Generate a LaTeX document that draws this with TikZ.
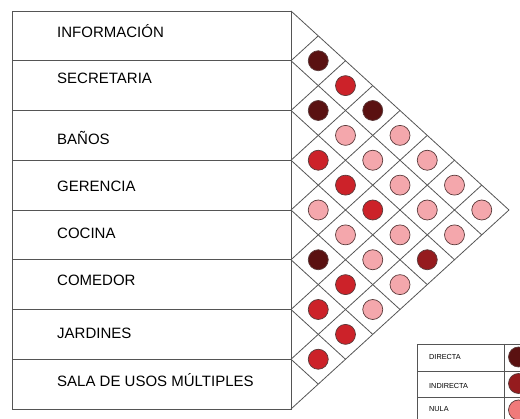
\documentclass[tikz,border=0pt]{standalone}
\usepackage{fontspec}
\setmainfont{Liberation Sans}
\definecolor{cdir}{HTML}{5A1111}
\definecolor{cred}{HTML}{CC2229}
\definecolor{cnul}{HTML}{F4A7AC}
\definecolor{cmed}{HTML}{951B1E}
\definecolor{lnul}{HTML}{F07A7A}
\definecolor{lgray}{HTML}{555555}
\definecolor{cedge}{HTML}{5A3A3A}
\begin{document}
\begin{tikzpicture}[x=1pt,y=-1pt,
  gridline/.style={draw=lgray,line width=0.8pt},
  dot/.style={circle,draw=cedge,line width=0.7pt,minimum size=20pt,inner sep=0pt},
  lbl/.style={anchor=base west,inner sep=0pt,font=\fontsize{15}{18}\selectfont},
  leg/.style={anchor=base west,inner sep=0pt,font=\fontsize{7.3}{9}\selectfont}]
\useasboundingbox (0,0) rectangle (520,419);
\clip (0,0) rectangle (520,419);
% left table
\draw[gridline] (12,11) rectangle (291,409);
\foreach \m in {1,...,7} \draw[gridline] (12,{11+49.75*\m}) -- (291,{11+49.75*\m});
% diamond grid
\foreach \m in {0,...,8} {
  \draw[gridline] (291,{11+49.75*\m}) -- ++({27.25*(8-\m)},{24.875*(8-\m)});
  \draw[gridline] (291,{11+49.75*\m}) -- ++({27.25*\m},{-24.875*\m});
}
% circles
\foreach \i/\j/\c in {0/1/cdir,0/2/cred,1/2/cdir,0/3/cdir,1/3/cnul,0/4/cnul,
  2/3/cred,1/4/cnul,0/5/cnul,2/4/cred,1/5/cnul,0/6/cnul,
  3/4/cnul,2/5/cred,1/6/cnul,0/7/cnul,3/5/cnul,2/6/cnul,1/7/cnul,
  4/5/cdir,3/6/cnul,2/7/cmed,4/6/cred,3/7/cnul,5/6/cred,4/7/cnul,5/7/cred,6/7/cred}
  \node[dot,fill=\c] (c\i\j) at ({291+27.25*(\j-\i)},{11+24.875*(\i+\j+1)}) {};
% labels
\node[lbl] (l0) at (57,37.7) {INFORMACIÓN};
\node[lbl] (l1) at (57,84) {SECRETARIA};
\node[lbl] (l2) at (57,145) {BAÑOS};
\node[lbl] (l3) at (57,191.5) {GERENCIA};
\node[lbl] (l4) at (57,239) {COCINA};
\node[lbl] (l5) at (57,286) {COMEDOR};
\node[lbl] (l6) at (57,338.5) {JARDINES};
\node[lbl] (l7) at (57,387) {SALA DE USOS MÚLTIPLES};
% legend
\draw[gridline,fill=white] (417,344) rectangle (530,425);
\draw[gridline] (417,371) -- (530,371);
\draw[gridline] (417,397) -- (530,397);
\draw[gridline] (504,344) -- (504,425);
\node[leg] (t1) at (429,360) {DIRECTA};
\node[leg] (t2) at (429,388.5) {INDIRECTA};
\node[leg] (t3) at (429,412) {NULA};
\node[dot,fill=cdir] (d1) at (518.5,357) {};
\node[dot,fill=cmed] (d2) at (518.5,383.5) {};
\node[dot,fill=lnul] (d3) at (518.5,410) {};
\end{tikzpicture}
\end{document}
